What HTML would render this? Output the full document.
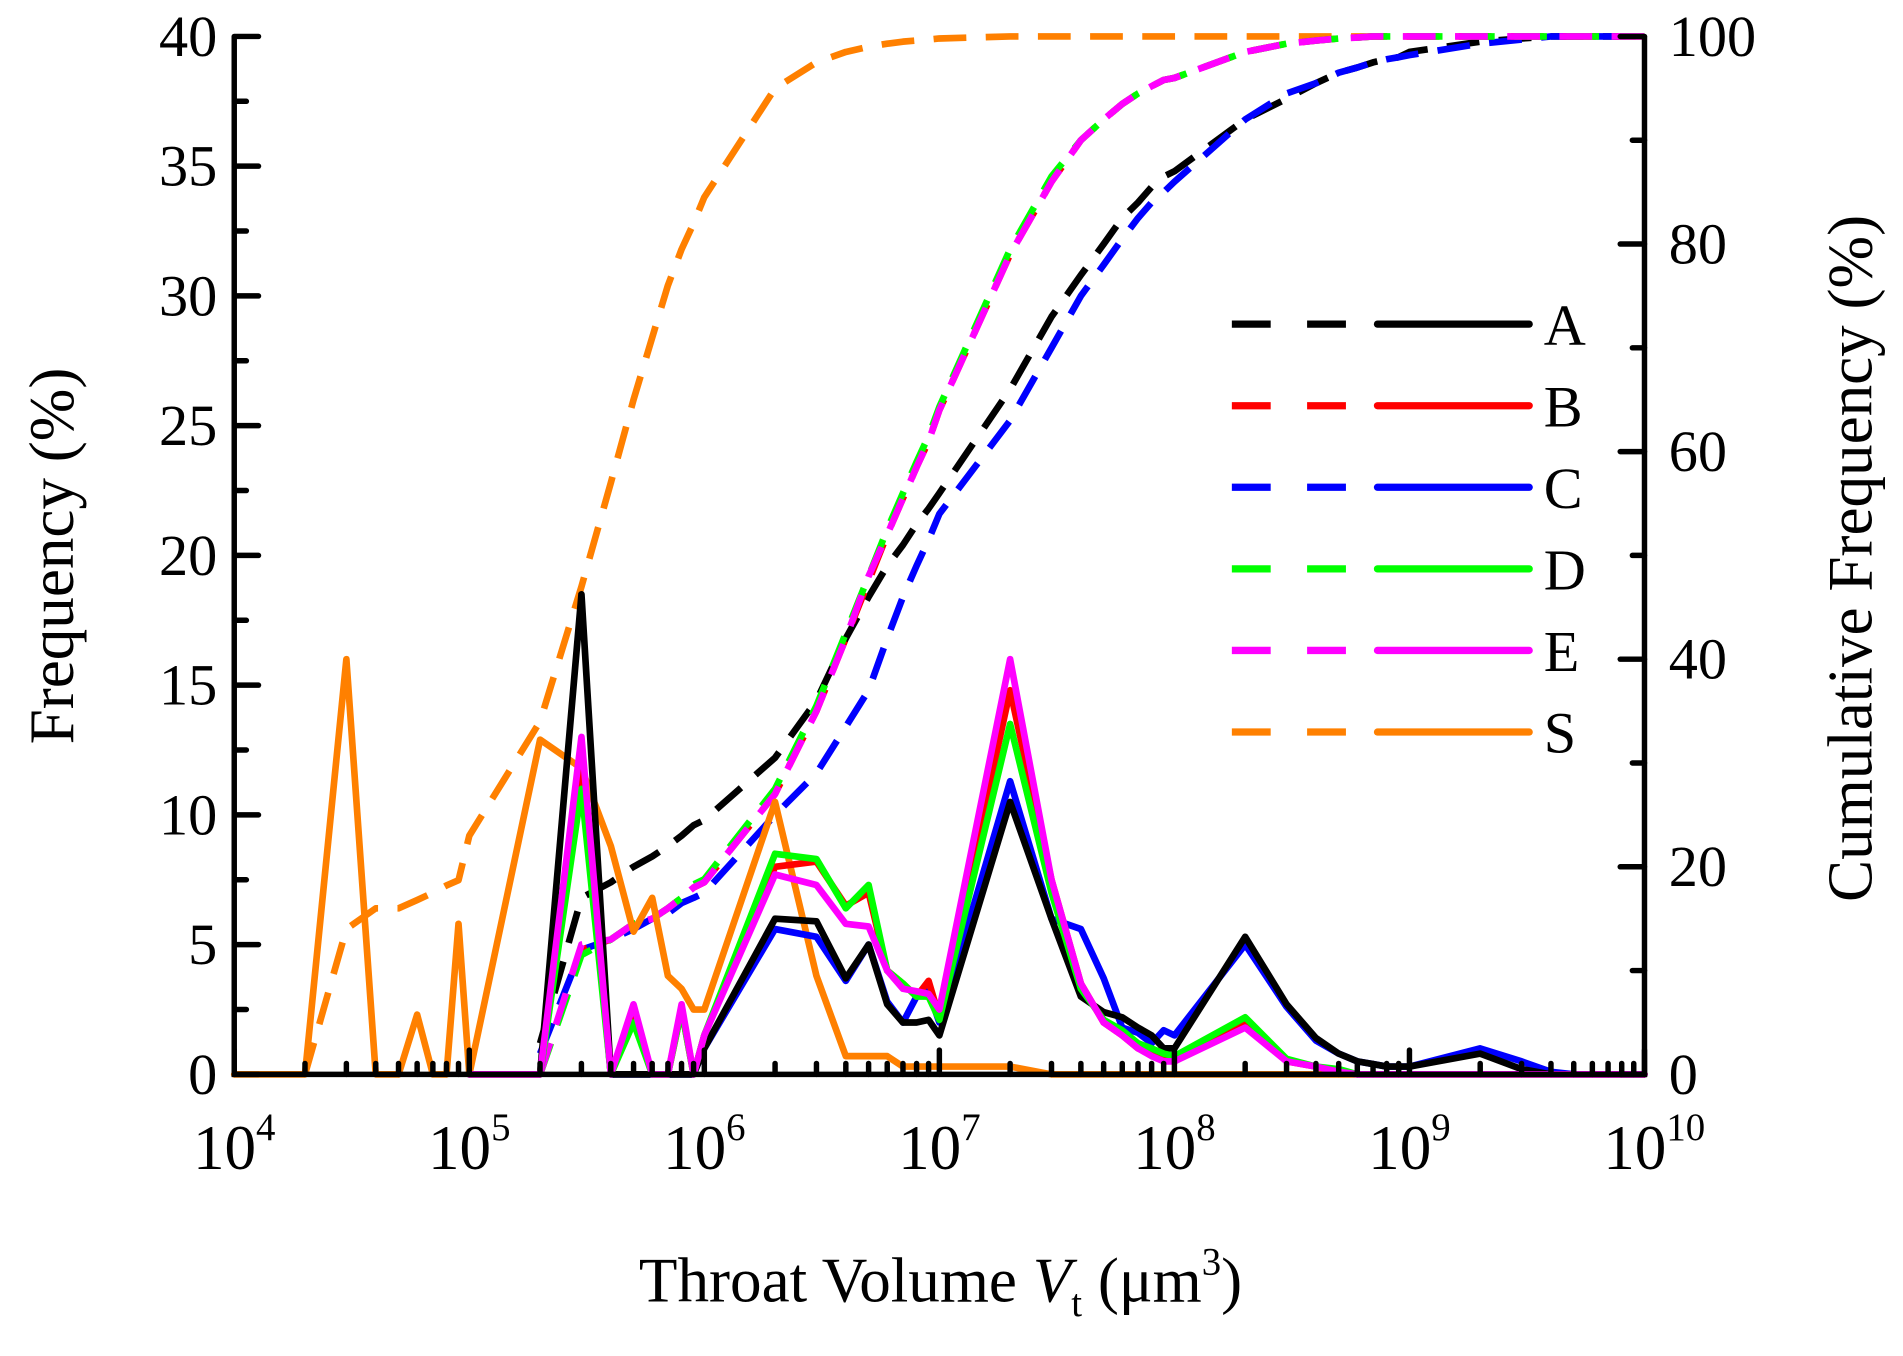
<!DOCTYPE html>
<html><head><meta charset="utf-8"><style>
html,body{margin:0;padding:0;background:#fff;}
svg{display:block;font-family:"Liberation Serif",serif;}
</style></head><body>
<svg id="chart" width="1903" height="1356" viewBox="0 0 1568 1117" preserveAspectRatio="none" xmlns="http://www.w3.org/2000/svg">
<g id="grid"></g>
<g id="series"></g>
<g id="axes"></g>
<g id="legend"></g>
</svg>
<script>
const xVals = [1e4,2e4,3e4,4e4,5e4,6e4,7e4,8e4,9e4,
1e5,2e5,3e5,4e5,5e5,6e5,7e5,8e5,9e5,
1e6,2e6,3e6,4e6,5e6,6e6,7e6,8e6,9e6,
1e7,2e7,3e7,4e7,5e7,6e7,7e7,8e7,9e7,
1e8,2e8,3e8,4e8,5e8,6e8,7e8,8e8,9e8,
1e9,2e9,3e9,4e9,5e9,6e9,7e9,8e9,9e9,1e10];
const N = null;
const freqS = [0,0,16,0,0,2.3,0,0,5.8, 0,12.9,11.8,8.8,5.5,6.8,3.8,3.3,2.5, 2.5,10.5,3.8,0.7,0.7,0.7,0.3,0.3,0.3, 0.3,0.3,0,0,0,0,0,0,0, 0,0,0,0,0,0,0,0,0, 0,0,0,0,0,0,0,0,0,0];
const freqA = [N,N,N,N,N,N,N,N,N, 0,0,18.5,0,0,0,0,0,0, 1,6,5.9,3.7,5,2.7,2,2,2.1, 1.5,10.5,6,3,2.4,2.2,1.8,1.5,1, 1,5.3,2.7,1.4,0.8,0.5,0.4,0.3,0.3, 0.3,0.8,0.2,0,0,0,0,0,0,0];
const freqB = [N,N,N,N,N,N,N,N,N, 0,0,12,0,2.5,0,0,2.5,0, 1.5,8,8.2,6.5,7,4,3.5,3,3.6, 2.2,14.8,7.5,3.5,2,1.5,1,0.8,0.6, 0.5,2,0.5,0.3,0.1,0,0,0,0, 0,0,0,0,0,0,0,0,0,0];
const freqC = [N,N,N,N,N,N,N,N,N, 0,0,12,0,0,0,0,0,0, 1,5.6,5.3,3.6,5,2.8,2,3,3.2, 2,11.3,6,5.6,3.7,1.8,1.6,1.2,1.7, 1.5,5,2.6,1.3,0.8,0.5,0.4,0.3,0.3, 0.3,1,0.5,0.1,0,0,0,0,0,0];
const freqD = [N,N,N,N,N,N,N,N,N, 0,0,11,0,2,0,0,2.5,0, 1.5,8.5,8.3,6.4,7.3,4,3.5,3,3, 2.1,13.5,7,3.3,2.1,1.7,1.2,1,0.8, 0.7,2.2,0.6,0.3,0.2,0,0,0,0, 0,0,0,0,0,0,0,0,0,0];
const freqE = [N,N,N,N,N,N,N,N,N, 0,0,13,0,2.7,0,0,2.7,0, 1.5,7.7,7.3,5.8,5.7,4,3.3,3.2,3.1, 2.5,16,7.5,3.5,2,1.5,1,0.7,0.5, 0.5,1.8,0.5,0.3,0.1,0,0,0,0, 0,0,0,0,0,0,0,0,0,0];
const cumS = [N,0,14,16,16,16.8,17.5,18.2,18.7, 23,34,47,57,65,71,76,79.5,82, 84.5,95,97.5,98.5,99,99.3,99.5,99.6,99.7, 99.8,100,100,100,100,100,100,100,100, 100,100,100,100,100,100,100,100,100, 100,100,100,100,100,100,100,100,100,100];
const cumA = [N,N,N,N,N,N,N,N,N, N,3,17,18.5,20,21,22,23,24, 24.5,30.5,36,42,46,49,51,53,54.5, 56,66,73,77,80,82.5,84,85.5,86.5, 87,92,94,95.5,96.5,97,97.5,97.8,98, 98.5,99.5,99.8,100,100,100,100,100,100,100];
const cumC = [N,N,N,N,N,N,N,N,N, N,2,12,13,14,15,15.5,16.5,17, 17.5,25,29,33.5,37,42,46,49,51.5, 54,63,70,75,78,80.5,82.5,84,85, 86,92,94.5,95.5,96.5,97,97.5,97.8,98, 98.2,99.3,99.7,100,100,100,100,100,100,100];
const cumB = [N,N,N,N,N,N,N,N,N, N,0,12,13,14.5,15,16,17,18, 18.5,27,35,42,47.5,52,55.5,58.5,61, 64,79,86,90,92,93.5,94.5,95.2,95.8, 96,98.5,99.3,99.6,99.8,99.9,100,100,100, 100,100,100,100,100,100,100,100,100,100];
const cumD = [N,N,N,N,N,N,N,N,N, N,0,11.5,13,14.5,15,16,17,18.3, 18.8,27.5,35.5,42.5,48,52.5,56,59,61.5, 64.3,79.5,86.5,90,92,93.5,94.5,95.2,95.8, 96,98.5,99.3,99.6,99.8,99.9,100,100,100, 100,100,100,100,100,100,100,100,100,100];
const cumE = [N,N,N,N,N,N,N,N,N, N,0,12.5,13,14.5,15,16,17,18, 18.5,27,35,42,48,52,55.5,58.5,61, 64,79,86,90,92,93.5,94.5,95.2,95.8, 96,98.5,99.3,99.6,99.8,99.9,100,100,100, 100,100,100,100,100,100,100,100,100,100];
const leftTicks = [0,5,10,15,20,25,30,35,40];
const rightTicks = [0,20,40,60,80,100];
const xTickExp = [4,5,6,7,8,9,10];
const legendNames = ["A","B","C","D","E","S"];
const legendColors = ["#000000","#ff0000","#0000ff","#00ff00","#ff00ff","#ff8000"];

const L=193,R=1355,T=30,B=885;
const xScale = v => L + (Math.log10(v)-4)/6*(R-L);
const yF = v => B - v/40*(B-T);
const yC = v => B - v/100*(B-T);
const NS="http://www.w3.org/2000/svg";
function mk(tag, attrs, parent){const e=document.createElementNS(NS,tag);for(const k in attrs)e.setAttribute(k,attrs[k]);parent.appendChild(e);return e;}
const gS=document.getElementById('series'), gA=document.getElementById('axes'), gL=document.getElementById('legend');

function drawLine(vals, yfn, color, dashed, name){
  let d="";let pen=false;
  vals.forEach((v,i)=>{ if(v===null){pen=false;return;} const x=xScale(xVals[i]),y=yfn(v); d+=(pen?"L":"M")+x.toFixed(1)+","+y.toFixed(1); pen=true;});
  const p=mk('path',{d:d,fill:'none',stroke:color,'stroke-width':5.5,'stroke-linejoin':'round','stroke-linecap':dashed?'butt':'round'},gS);
  if(dashed)p.setAttribute('stroke-dasharray','27 16');
  
  
}
drawLine(cumS,yC,"#ff8000",true,"cumulative-line-s");
drawLine(cumA,yC,"#000000",true,"cumulative-line-a");
drawLine(cumC,yC,"#0000ff",true,"cumulative-line-c");
drawLine(cumB,yC,"#ff0000",true,"cumulative-line-b");
drawLine(cumD,yC,"#00ff00",true,"cumulative-line-d");
drawLine(cumE,yC,"#ff00ff",true,"cumulative-line-e");
drawLine(freqS,yF,"#ff8000",false,"frequency-line-s");
drawLine(freqC,yF,"#0000ff",false,"frequency-line-c");
drawLine(freqA,yF,"#000000",false,"frequency-line-a");
drawLine(freqB,yF,"#ff0000",false,"frequency-line-b");
drawLine(freqD,yF,"#00ff00",false,"frequency-line-d");
drawLine(freqE,yF,"#ff00ff",false,"frequency-line-e");

const frame=mk('path',{d:`M${L},${T}V${B}H${R}V${T}`,fill:'none',stroke:'#000','stroke-width':4.5},gA);


for(let v=0;v<=40;v+=2.5){const y=yF(v);const major=(v%5===0);
  const t=mk('line',{x1:L,y1:y,x2:L+(major?20:10),y2:y,stroke:'#000','stroke-width':4.5,'stroke-linecap':'round'},gA);
  
  }
leftTicks.forEach(v=>{const t=mk('text',{x:L-14,y:yF(v)+16,'text-anchor':'end','font-size':48},gA);t.textContent=v;
  
  });
for(let v=0;v<=100;v+=10){const y=yC(v);const major=(v%20===0);
  const t=mk('line',{x1:R,y1:y,x2:R-(major?20:10),y2:y,stroke:'#000','stroke-width':4.5,'stroke-linecap':'round'},gA);
  
  }
rightTicks.forEach(v=>{const t=mk('text',{x:R+20,y:yC(v)+16,'text-anchor':'start','font-size':48},gA);t.textContent=v;
  
  });
xVals.forEach(v=>{const x=xScale(v);const major=Math.abs(Math.log10(v)%1)<1e-9;
  const t=mk('line',{x1:x,y1:B,x2:x,y2:B-(major?20:9),stroke:'#000','stroke-width':4.5,'stroke-linecap':'round'},gA);
  
  });
xTickExp.forEach(e=>{const x=xScale(Math.pow(10,e));const t=mk('text',{x:x+(e===10?8:0),y:B+78,'text-anchor':'middle','font-size':52},gA);
  t.innerHTML='10<tspan dy="-24" font-size="32">'+e+'</tspan>';
  
  });
const yt=mk('text',{x:0,y:0,'text-anchor':'middle','font-size':52,transform:'translate(60,458) rotate(-90)'},gA);
yt.textContent='Frequency (%)';


const rt=mk('text',{x:0,y:0,'text-anchor':'middle','font-size':52,transform:'translate(1542,460) rotate(-90)'},gA);
rt.textContent='Cumulative Frequency (%)';


const xt=mk('text',{x:775,y:1072,'text-anchor':'middle','font-size':52},gA);
xt.innerHTML='Throat Volume <tspan font-style="italic">V</tspan><tspan dy="12" font-size="32">t</tspan><tspan dy="-12"> (μm</tspan><tspan dy="-22" font-size="32">3</tspan><tspan dy="22">)</tspan>';


legendNames.forEach((n,i)=>{const y=267+i*67.2;const c=legendColors[i];
  const g=mk('g',{},gL);
  
  
  mk('line',{x1:1015,y1:y,x2:1110,y2:y,stroke:c,'stroke-width':6,'stroke-dasharray':'32 30'},g);
  mk('line',{x1:1135,y1:y,x2:1260,y2:y,stroke:c,'stroke-width':6,'stroke-linecap':'round'},g);
  const t=mk('text',{x:1272,y:y+17,'font-size':48},g);t.textContent=n;});
</script>
</body></html>
